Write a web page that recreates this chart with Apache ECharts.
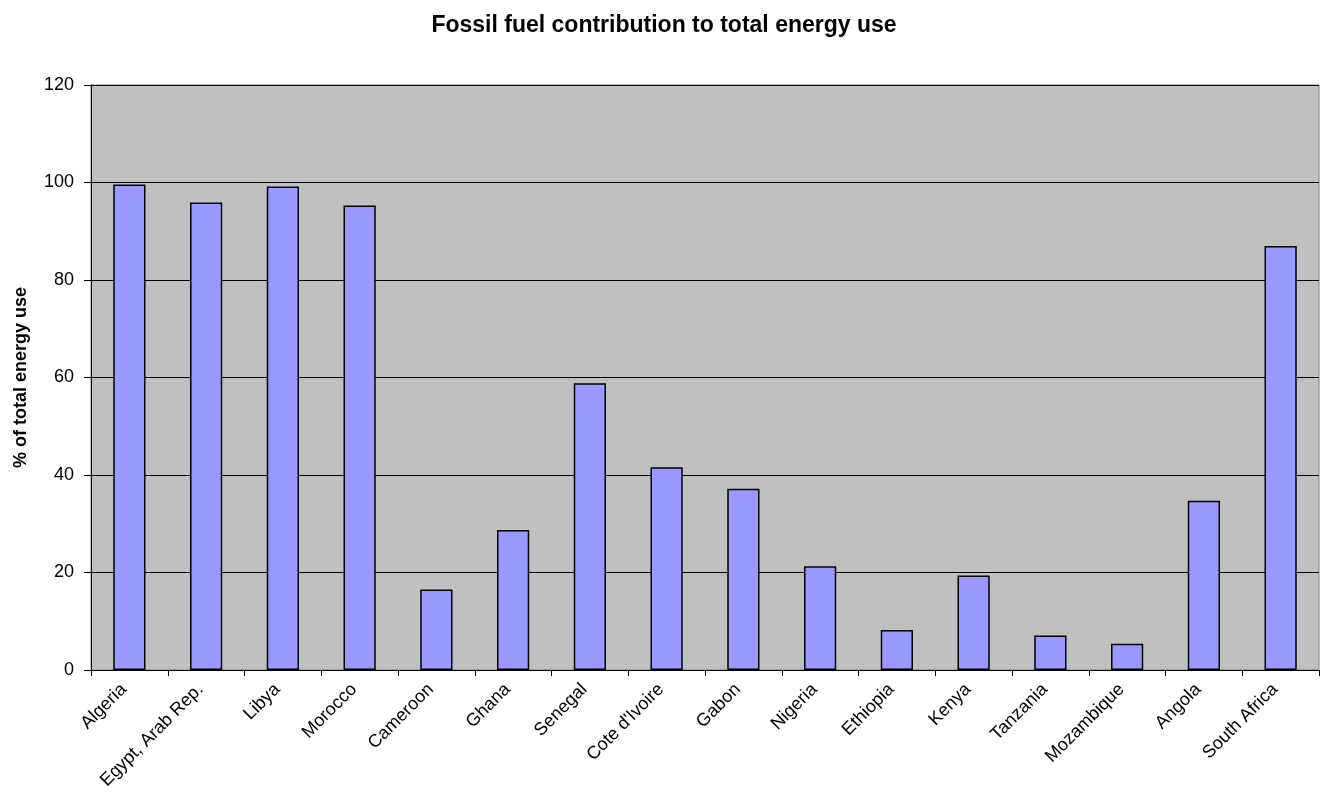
<!DOCTYPE html>
<html>
<head>
<meta charset="utf-8">
<script src="https://cdn.jsdelivr.net/npm/echarts@6/dist/echarts.min.js"></script>
<style>
  html, body { margin: 0; padding: 0; background: #ffffff; }
  #chart { width: 1328px; height: 794px; }
</style>
</head>
<body>
<div id="chart"></div>
<script>
// Countries shown along the category axis
const countries = [
  'Algeria', 'Egypt, Arab Rep.', 'Libya', 'Morocco', 'Cameroon', 'Ghana',
  'Senegal', "Cote d'Ivoire", 'Gabon', 'Nigeria', 'Ethiopia', 'Kenya',
  'Tanzania', 'Mozambique', 'Angola', 'South Africa'
];

// Fossil fuel share of total energy use (%)
const fossilShare = [
  99.6, 95.9, 99.2, 95.3, 16.5, 28.7,
  58.8, 41.6, 37.2, 21.3, 8.2, 19.4,
  7.1, 5.4, 34.7, 87.0
];

// Value axis range and step
const yMin = 0;
const yMax = 120;
const yStep = 20;

const font = '"Liberation Sans", Arial, sans-serif';

const chart = echarts.init(document.getElementById('chart'), null, { renderer: 'canvas' });

chart.setOption({
  animation: false,
  backgroundColor: '#ffffff',
  title: {
    text: 'Fossil fuel contribution to total energy use',
    left: 'center',
    top: 9,
    textStyle: { fontFamily: font, fontSize: 23, fontWeight: 'bold', color: '#000' }
  },
  grid: {
    left: 91,
    right: 9,
    top: 85,
    bottom: 124,
    containLabel: false,
    outerBoundsMode: 'none',
    show: true,
    backgroundColor: '#C0C0C0',
    borderColor: '#808080',
    borderWidth: 1
  },
  xAxis: {
    type: 'category',
    data: countries,
    axisLine: { show: true, lineStyle: { color: '#000', width: 1 } },
    axisTick: { show: true, alignWithLabel: false, length: 6, lineStyle: { color: '#000' } },
    axisLabel: {
      interval: 0,
      rotate: 45,
      margin: 11,
      padding: [0, 8, 0, 0],
      fontFamily: font,
      fontSize: 18,
      color: '#000'
    },
    splitLine: { show: false }
  },
  yAxis: {
    type: 'value',
    min: yMin,
    max: yMax,
    interval: yStep,
    name: '% of total energy use',
    nameLocation: 'middle',
    nameGap: 61,
    nameRotate: 90,
    nameTextStyle: { fontFamily: font, fontSize: 18, fontWeight: 'bold', color: '#000' },
    axisLine: { show: true, lineStyle: { color: '#000', width: 1 } },
    axisTick: { show: true, length: 7, lineStyle: { color: '#000' } },
    axisLabel: { fontFamily: font, fontSize: 18, color: '#000', margin: 17 },
    splitLine: { show: true, lineStyle: { color: '#000', width: 1 } }
  },
  series: [{
    type: 'bar',
    data: fossilShare,
    barWidth: '42%',
    itemStyle: {
      color: '#9999FF',
      borderColor: '#000',
      borderWidth: 1.5
    }
  }]
});
</script>
</body>
</html>
